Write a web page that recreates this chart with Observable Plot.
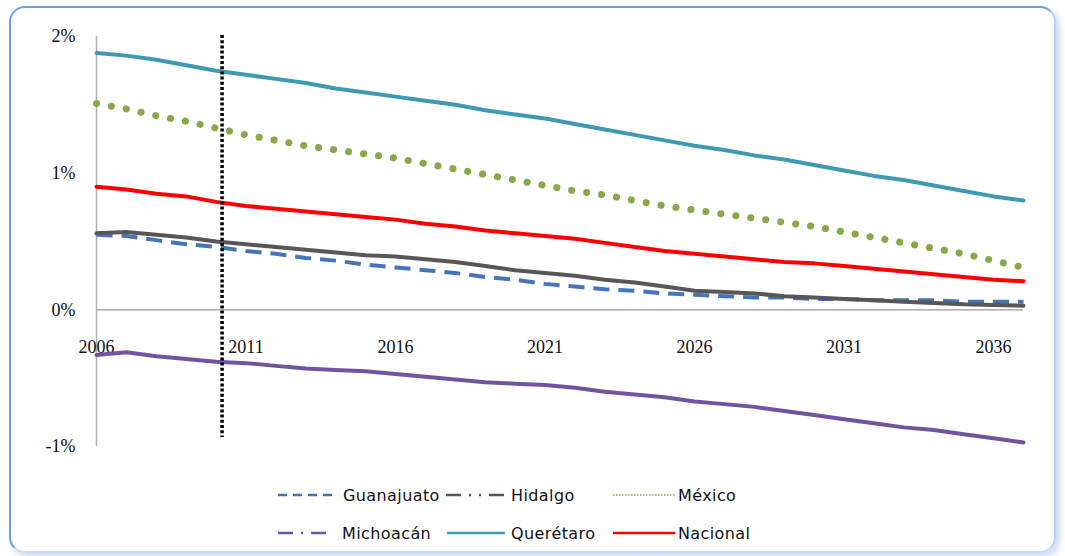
<!DOCTYPE html>
<html>
<head>
<meta charset="utf-8">
<script src="https://cdn.jsdelivr.net/npm/d3@7"></script>
<script src="https://cdn.jsdelivr.net/npm/@observablehq/plot@0.6"></script>
<style>
  html, body { margin: 0; padding: 0; background: #fff; }
  #wrap { position: relative; width: 1065px; height: 556px; overflow: hidden; background: #fff; }
  #frame { position: absolute; left: 9px; top: 6px; width: 1043px; height: 543px;
    border-top: 2px solid #6E9FE3; border-left: 2px solid #6E9FE3;
    border-right: 2px solid #b9d1f2; border-bottom: 2px solid #c9daf3;
    border-radius: 16px; box-shadow: 4px 4px 6px rgba(140,175,225,0.45); }
  #chart { position: absolute; left: 0; top: 0; }
  .leg { position: absolute; font-family: "DejaVu Sans", Verdana, sans-serif; font-size: 16px; letter-spacing: 0.4px; color: #111; display: flex; align-items: center; }
</style>
</head>
<body>
<div id="wrap">
  <div id="frame"></div>
  <div id="chart"></div>
  <div id="legend"></div>
</div>
<script>
const years = d3.range(2006, 2038);
const guanajuato = [0.55,0.54,0.51,0.48,0.46,0.43,0.41,0.38,0.36,0.33,0.31,0.29,0.27,0.24,0.22,0.19,0.17,0.15,0.14,0.12,0.11,0.10,0.09,0.09,0.08,0.08,0.07,0.07,0.07,0.06,0.06,0.06];
const hidalgo    = [0.56,0.57,0.55,0.53,0.50,0.48,0.46,0.44,0.42,0.40,0.39,0.37,0.35,0.32,0.29,0.27,0.25,0.22,0.20,0.17,0.14,0.13,0.12,0.10,0.09,0.08,0.07,0.06,0.05,0.04,0.035,0.03];
const mexico     = [1.51,1.47,1.42,1.38,1.33,1.28,1.24,1.20,1.17,1.14,1.11,1.07,1.03,0.99,0.95,0.91,0.87,0.84,0.80,0.76,0.73,0.70,0.67,0.64,0.61,0.57,0.53,0.49,0.45,0.41,0.36,0.31];
const michoacan  = [-0.33,-0.31,-0.34,-0.36,-0.38,-0.39,-0.41,-0.43,-0.44,-0.45,-0.47,-0.49,-0.51,-0.53,-0.54,-0.55,-0.57,-0.60,-0.62,-0.64,-0.67,-0.69,-0.71,-0.74,-0.77,-0.80,-0.83,-0.86,-0.88,-0.91,-0.94,-0.97];
const queretaro  = [1.88,1.86,1.83,1.79,1.75,1.72,1.69,1.66,1.62,1.59,1.56,1.53,1.50,1.46,1.43,1.40,1.36,1.32,1.28,1.24,1.20,1.17,1.13,1.10,1.06,1.02,0.98,0.95,0.91,0.87,0.83,0.80];
const nacional   = [0.90,0.88,0.85,0.83,0.79,0.76,0.74,0.72,0.70,0.68,0.66,0.63,0.61,0.58,0.56,0.54,0.52,0.49,0.46,0.43,0.41,0.39,0.37,0.35,0.34,0.32,0.30,0.28,0.26,0.24,0.22,0.21];
const xTickLabels = [2006, 2011, 2016, 2021, 2026, 2031, 2036];
const yTicks = [-1, 0, 1, 2];
const markerYear = 2010.2;

const seriesNames = ["Guanajuato","Hidalgo","México","Michoacán","Querétaro","Nacional"];
const seriesValues = [guanajuato, hidalgo, mexico, michoacan, queretaro, nacional];
const table = seriesNames.map((name, i) => years.map((year, j) => ({name, year, value: seriesValues[i][j]})));

const styles = {
  "Guanajuato": {stroke: "#4475B8", strokeWidth: 4, strokeDasharray: "16 9", strokeLinecap: "butt"},
  "Hidalgo":    {stroke: "#575757", strokeWidth: 4},
  "México":     {stroke: "#87A94A", strokeWidth: 7, strokeDasharray: "0.1 15", strokeLinecap: "round"},
  "Michoacán":  {stroke: "#6F55A0", strokeWidth: 4},
  "Querétaro":  {stroke: "#3E9AB2", strokeWidth: 4},
  "Nacional":   {stroke: "#FF0000", strokeWidth: 4}
};

const drawOrder = ["Michoacán","Guanajuato","Hidalgo","Nacional","México","Querétaro"];

const chart = Plot.plot({
  width: 1065,
  height: 470,
  marginLeft: 96,
  marginRight: 42,
  marginTop: 36,
  marginBottom: 24,
  style: {fontFamily: "'Liberation Serif', 'Times New Roman', serif", fontSize: "18px", color: "#111", background: "transparent"},
  x: {domain: [2006, 2037], axis: null},
  y: {domain: [-1, 2], axis: null},
  marks: [
    Plot.ruleY([0], {stroke: "#9a9a9a", strokeWidth: 1.2}),
    Plot.ruleX([2006], {stroke: "#b0b0b0", strokeWidth: 1.5}),
    Plot.axisY({ticks: yTicks, tickFormat: d => d + "%", label: null, tickSize: 0, tickPadding: 21, fontSize: 18, letterSpacing: "2.5px", fill: "#111"}),
    Plot.text(xTickLabels, {x: d => d, y: 0, dy: 37, text: d => String(d), fontSize: 18, letterSpacing: "2px", fill: "#111"}),
    ...drawOrder.map(name => Plot.line(table[seriesNames.indexOf(name)], {x: "year", y: "value", curve: "linear", ...styles[name]})),
    Plot.ruleX([markerYear], {stroke: "#000", strokeWidth: 3.5, strokeDasharray: "3 2.2", insetBottom: 9, insetTop: -1})
  ]
});
document.getElementById("chart").appendChild(chart);

// legend
const legendItems = [
  {name: "Guanajuato", left: 278, top: 495, sw: 55, stroke: "#4475B8", dash: "9 6", width: 2.5, gap: 10},
  {name: "Hidalgo",    left: 446, top: 495, sw: 59, stroke: "#575757", dash: "15 8 2 8 2 8", width: 2.5, gap: 6},
  {name: "México",     left: 613, top: 495, sw: 62, stroke: "#87A94A", dash: "1.5 1.5", width: 1.5, gap: 3},
  {name: "Michoacán",  left: 278, top: 533, sw: 50, stroke: "#6F55A0", dash: "15 8 2 8", width: 2.5, gap: 14},
  {name: "Querétaro",  left: 447, top: 533, sw: 58, stroke: "#3E9AB2", dash: null, width: 2.5, gap: 6},
  {name: "Nacional",   left: 613, top: 533, sw: 62, stroke: "#FF0000", dash: null, width: 2.5, gap: 3}
];
const legend = document.getElementById("legend");
for (const it of legendItems) {
  const div = document.createElement("div");
  div.className = "leg";
  div.style.left = it.left + "px";
  div.style.top = (it.top - 11) + "px";
  div.style.height = "22px";
  const ns = "http://www.w3.org/2000/svg";
  const s = document.createElementNS(ns, "svg");
  s.setAttribute("width", it.sw);
  s.setAttribute("height", 10);
  s.style.marginRight = it.gap + "px";
  const l = document.createElementNS(ns, "line");
  l.setAttribute("x1", 0); l.setAttribute("x2", it.sw);
  l.setAttribute("y1", 5); l.setAttribute("y2", 5);
  l.setAttribute("stroke", it.stroke);
  l.setAttribute("stroke-width", it.width);
  if (it.dash) l.setAttribute("stroke-dasharray", it.dash);
  s.appendChild(l);
  div.appendChild(s);
  const t = document.createElement("span");
  t.textContent = it.name;
  div.appendChild(t);
  legend.appendChild(div);
}
</script>
</body>
</html>
